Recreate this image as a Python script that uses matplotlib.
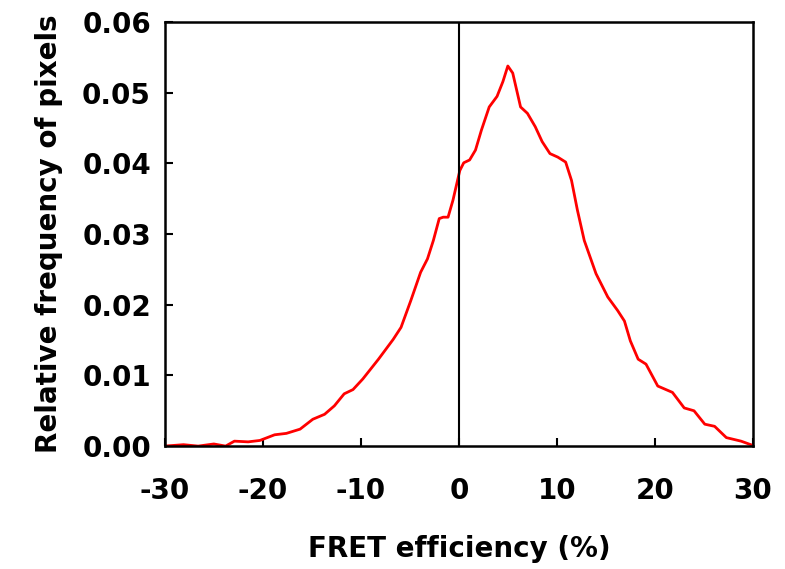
import matplotlib
matplotlib.use('Agg')
import matplotlib.pyplot as plt

# FRET efficiency (%) and relative frequency
fret = [-30.0, -28.1, -26.6, -25.0, -23.8, -22.9, -21.5, -20.3, -18.8, -17.6,
        -16.2, -14.9, -13.7, -12.7, -11.7, -10.8, -9.8, -8.2, -6.7, -5.9,
        -4.9, -3.9, -3.2, -2.6, -2.0, -1.6, -1.1, -0.6, 0.1, 0.5,
        1.1, 1.7, 2.3, 3.1, 3.9, 4.5, 5.0, 5.5, 5.9, 6.3,
        7.0, 7.8, 8.5, 9.3, 10.1, 10.9, 11.5, 12.1, 12.8, 14.0,
        15.2, 16.2, 16.9, 17.5, 18.3, 19.1, 20.3, 21.8, 23.0, 24.0,
        25.1, 26.1, 27.3, 28.8, 30.0]
freq = [0.0000, 0.0002, 0.0000, 0.0003, 0.0000, 0.0007, 0.0006, 0.0008, 0.0016, 0.0018,
        0.0024, 0.0038, 0.0045, 0.0057, 0.0074, 0.0080, 0.0095, 0.0123, 0.0151, 0.0168,
        0.0206, 0.0246, 0.0265, 0.0291, 0.0322, 0.0324, 0.0324, 0.0348, 0.0390, 0.0401,
        0.0405, 0.0419, 0.0447, 0.0480, 0.0495, 0.0516, 0.0538, 0.0528, 0.0504, 0.0480,
        0.0471, 0.0452, 0.0431, 0.0414, 0.0409, 0.0402, 0.0376, 0.0334, 0.0291, 0.0244,
        0.0211, 0.0192, 0.0177, 0.0149, 0.0123, 0.0116, 0.0085, 0.0076, 0.0054, 0.0050,
        0.0031, 0.0028, 0.0012, 0.0007, 0.0001]

x_ticks = [-30, -20, -10, 0, 10, 20, 30]
y_ticks = [0.00, 0.01, 0.02, 0.03, 0.04, 0.05, 0.06]

plt.rcParams['font.family'] = ['DejaVu Sans']
plt.rcParams['font.weight'] = 'bold'

fig = plt.figure(figsize=(7.85, 5.69), dpi=100)
ax = fig.add_axes([0.210, 0.216, 0.749, 0.745])

ax.plot(fret, freq, color='red', linewidth=2.0, solid_joinstyle='round')
# vertical line at zero
ax.axvline(0, color='black', linewidth=1.5)

ax.set_xlim(-30, 30)
ax.set_ylim(0, 0.06)
ax.set_xticks(x_ticks)
ax.set_yticks(y_ticks)
ax.set_xticklabels([str(t) for t in x_ticks])
ax.set_yticklabels(['%.2f' % t for t in y_ticks])
ax.tick_params(direction='in', length=6, width=1.5, labelsize=20)
ax.tick_params(axis='x', pad=22)
ax.tick_params(axis='y', pad=10)
for lab in ax.get_xticklabels() + ax.get_yticklabels():
    lab.set_fontweight('bold')
for sp in ax.spines.values():
    sp.set_linewidth(1.8)
    sp.set_color('black')

ax.set_xlabel('FRET efficiency (%)', fontsize=20, fontweight='bold', labelpad=22)
ax.set_ylabel('Relative frequency of pixels', fontsize=20, fontweight='bold', labelpad=14)

fig.savefig('out.png', dpi=100)
